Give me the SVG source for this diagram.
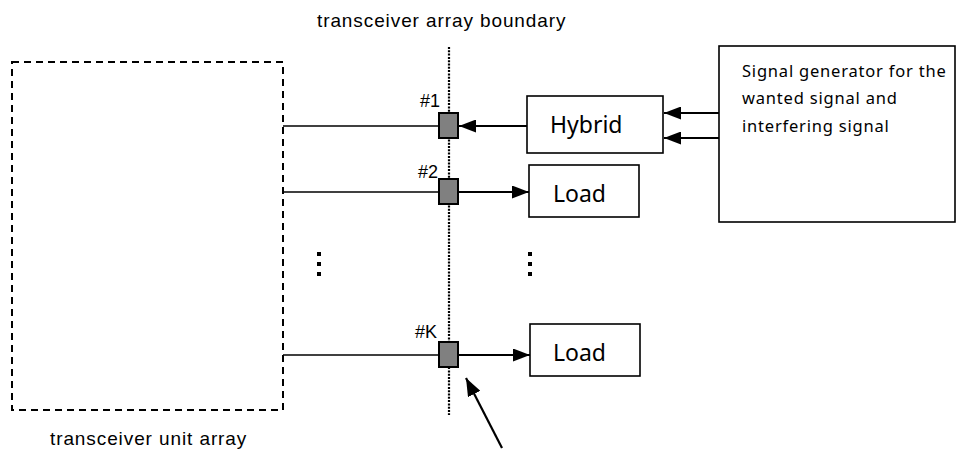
<svg xmlns="http://www.w3.org/2000/svg" width="957" height="451" viewBox="0 0 957 451">
<defs>
<style>
.lbl{font-family:"Liberation Sans",Arial,sans-serif;font-size:19px;letter-spacing:0.9px;fill:#000}
.port{font-family:"Liberation Sans",Arial,sans-serif;font-size:18px;fill:#000}
.box{fill:#fff;stroke:#000;stroke-width:1.6}
.boxtxt{font-family:"Noto Sans","Open Sans",sans-serif;font-size:23px;fill:#000}
.gentxt{font-family:"Noto Sans","Open Sans",sans-serif;font-size:16.5px;letter-spacing:0.8px;fill:#000}
.sq{fill:#808080;stroke:#000;stroke-width:2}
.wire{stroke:#000;stroke-width:1.6;fill:none}
.conn{stroke:#000;stroke-width:2.2;fill:none}
</style>
<marker id="ah" viewBox="0 0 17 13" refX="17" refY="6.5" markerWidth="17" markerHeight="13" orient="auto" markerUnits="userSpaceOnUse">
<path d="M0,0 L17,6.5 L0,13 z" fill="#000"/>
</marker>
<marker id="ahbig" viewBox="0 0 18 14" refX="18" refY="7" markerWidth="18" markerHeight="14" orient="auto" markerUnits="userSpaceOnUse">
<path d="M0,0 L18,7 L0,14 z" fill="#000"/>
</marker>
</defs>
<rect width="957" height="451" fill="#fff"/>

<g id="unit-array">
<rect x="12" y="62" width="271" height="348" fill="none" stroke="#000" stroke-width="2" stroke-dasharray="7,5"/>
<text class="lbl" x="50" y="445">transceiver unit array</text>
</g>

<g id="boundary">
<line x1="449" y1="47" x2="449" y2="415" stroke="#000" stroke-width="2.2" stroke-dasharray="2,1.3"/>
<text class="lbl" x="317" y="27">transceiver array boundary</text>
</g>

<g id="connectors">
<line class="wire" x1="283" y1="126" x2="439" y2="126"/>
<line class="wire" x1="283" y1="192" x2="439" y2="192"/>
<line class="wire" x1="283" y1="355" x2="439" y2="355"/>
<line class="conn" x1="527" y1="126" x2="459" y2="126" marker-end="url(#ah)"/>
<line class="conn" x1="458" y1="192" x2="529" y2="192" marker-end="url(#ah)"/>
<line class="conn" x1="458" y1="355" x2="530" y2="355" marker-end="url(#ah)"/>
<line class="conn" x1="719" y1="113" x2="664" y2="113" marker-end="url(#ah)"/>
<line class="conn" x1="719" y1="138" x2="664" y2="138" marker-end="url(#ah)"/>
<line class="conn" x1="502" y1="448" x2="466" y2="378" marker-end="url(#ahbig)"/>
</g>

<g id="port1">
<rect class="sq" x="439" y="113" width="19" height="25"/>
<text class="port" x="420" y="107">#1</text>
</g>
<g id="port2">
<rect class="sq" x="439" y="179" width="19" height="25"/>
<text class="port" x="418" y="178">#2</text>
</g>
<g id="portK">
<rect class="sq" x="439" y="342" width="19" height="25"/>
<text class="port" x="415" y="338">#K</text>
</g>

<g id="hybrid">
<rect class="box" x="527" y="96" width="136" height="57"/>
<text class="boxtxt" x="550" y="133">Hybrid</text>
</g>
<g id="load2">
<rect class="box" x="529" y="165" width="110" height="52"/>
<text class="boxtxt" x="553" y="202">Load</text>
</g>
<g id="loadK">
<rect class="box" x="530" y="324" width="110" height="52"/>
<text class="boxtxt" x="553" y="361">Load</text>
</g>

<g id="generator">
<rect class="box" x="719" y="46" width="236" height="176"/>
<text class="gentxt" x="742" y="77">Signal generator for the</text>
<text class="gentxt" x="742" y="104">wanted signal and</text>
<text class="gentxt" x="742" y="132">interfering signal</text>
</g>

<g id="ellipsis-left">
<rect x="317" y="252" width="4" height="4"/>
<rect x="317" y="262" width="4" height="4"/>
<rect x="317" y="272" width="4" height="4"/>
</g>
<g id="ellipsis-right">
<rect x="528" y="252" width="4" height="4"/>
<rect x="528" y="262" width="4" height="4"/>
<rect x="528" y="272" width="4" height="4"/>
</g>
</svg>
